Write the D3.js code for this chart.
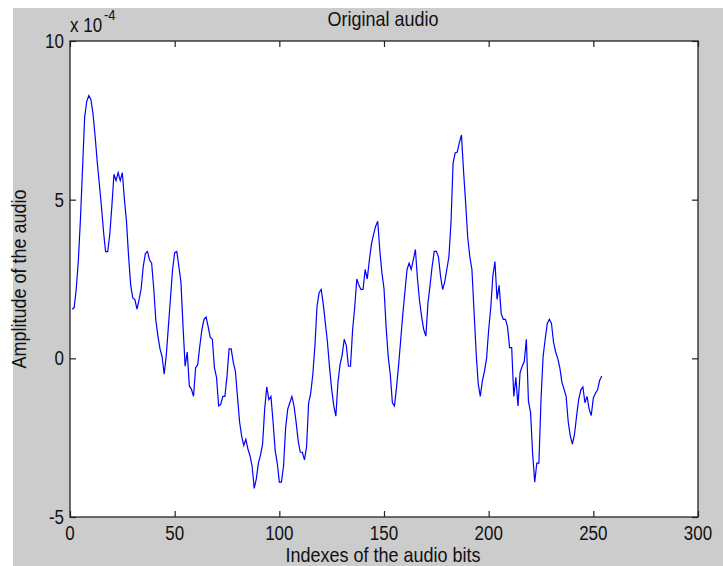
<!DOCTYPE html>
<style>
body { margin: 0; background: #fff; }
text { font-family: 'Liberation Sans', Arial, sans-serif; fill: #111; }
</style>
<svg width="723" height="566"></svg>
<script src="https://d3js.org/d3.v7.min.js"></script>
<script>
// amplitude in units of 1e-4, index 1..254
var amplitude = [
  1.55, 1.6, 2.2, 3.1, 4.4, 6.0, 7.6, 8.1, 8.28, 8.15,
  7.7, 7.0, 6.2, 5.5, 4.8, 4.0, 3.36, 3.36, 3.9, 4.8,
  5.8, 5.6, 5.85, 5.6, 5.85, 5.0, 4.3, 3.2, 2.3, 1.9,
  1.85, 1.55, 1.85, 2.2, 2.9, 3.3, 3.37, 3.1, 3.0, 2.2,
  1.2, 0.7, 0.3, 0.05, -0.5, 0.1, 1.0, 1.9, 2.8, 3.33,
  3.37, 2.9, 2.4, 1.0, -0.25, 0.2, -0.87, -0.97, -1.2, -0.3,
  -0.2, 0.38, 0.9, 1.23, 1.3, 1.0, 0.66, 0.6, -0.3, -0.6,
  -1.5, -1.45, -1.2, -1.2, -0.56, 0.3, 0.3, -0.13, -0.4, -1.2,
  -2.0, -2.45, -2.75, -2.55, -2.86, -3.07, -3.4, -4.1, -3.8, -3.3,
  -3.05, -2.7, -1.6, -0.9, -1.3, -1.2, -2.0, -2.9, -3.3, -3.9,
  -3.9, -3.4, -2.2, -1.6, -1.4, -1.2, -1.5, -2.0, -2.6, -2.96,
  -2.96, -3.2, -2.8, -1.4, -1.1, -0.5, 0.4, 1.64, 2.07, 2.17,
  1.7, 1.1, 0.5, -0.3, -0.97, -1.5, -1.82, -0.76, -0.2, 0.1,
  0.6, 0.4, -0.25, -0.25, 0.9, 1.6, 2.5, 2.3, 2.17, 2.17,
  2.8, 2.5, 3.1, 3.6, 3.9, 4.16, 4.32, 3.4, 2.7, 2.2,
  1.0, 0.06, -0.5, -1.4, -1.5, -0.9, -0.2, 0.6, 1.4, 2.1,
  2.8, 3.0, 2.8, 3.1, 3.43, 2.5, 1.8, 1.3, 0.9, 0.7,
  1.75, 2.3, 2.9, 3.37, 3.37, 3.2, 2.6, 2.17, 2.4, 2.8,
  3.2, 4.27, 6.16, 6.47, 6.5, 6.8, 7.04, 5.9, 4.9, 3.8,
  3.2, 2.8, 1.5, 0.2, -0.8, -1.2, -0.7, -0.4, 0.0, 0.9,
  1.6, 2.6, 3.05, 1.86, 2.3, 1.4, 1.23, 1.23, 1.0, 0.34,
  0.34, -1.2, -0.6, -1.5, -0.45, -0.25, -0.1, 0.6, -1.35, -1.7,
  -3.0, -3.9, -3.3, -3.3, -1.3, 0.06, 0.6, 1.1, 1.23, 1.1,
  0.5, 0.2, 0.0, -0.3, -0.76, -0.97, -1.2, -2.0, -2.45, -2.7,
  -2.4, -1.82, -1.3, -1.0, -0.9, -1.4, -1.2, -1.6, -1.8, -1.25,
  -1.1, -1.0, -0.7, -0.56
];
var xTicks = [0, 50, 100, 150, 200, 250, 300];
var yTicks = [-5, 0, 5, 10];

var svg = d3.select("svg");
var plotLeft = 70, plotRight = 698, plotTop = 41, plotBottom = 517;
var stretch = 1.15;

// grey figure background
svg.append("rect")
    .attr("x", 13).attr("y", 8)
    .attr("width", 710).attr("height", 558)
    .attr("fill", "#cccccc");

svg.append("rect")
    .attr("x", plotLeft).attr("y", plotTop)
    .attr("width", plotRight - plotLeft).attr("height", plotBottom - plotTop)
    .attr("fill", "#fff");

var x = d3.scaleLinear().domain([0, 300]).range([plotLeft, plotRight]);
var y = d3.scaleLinear().domain([-5, 10]).range([plotBottom, plotTop]);

var line = d3.line()
    .x(function(d, i) { return x(i + 1); })
    .y(function(d) { return y(d); });

svg.append("path")
    .datum(amplitude)
    .attr("fill", "none")
    .attr("stroke", "#0000ff")
    .attr("stroke-width", 1.2)
    .attr("d", line);

function styleAxis(g) {
  g.select(".domain").remove();
  g.selectAll("line").attr("stroke", "#222").attr("stroke-width", 1.2);
}

// inward ticks on all four sides
svg.append("g").attr("transform", "translate(0," + plotBottom + ")")
    .call(d3.axisBottom(x).tickValues(xTicks).tickSize(-6).tickFormat(""))
    .call(styleAxis);
svg.append("g").attr("transform", "translate(0," + plotTop + ")")
    .call(d3.axisTop(x).tickValues(xTicks).tickSize(-6).tickFormat(""))
    .call(styleAxis);
svg.append("g").attr("transform", "translate(" + plotLeft + ",0)")
    .call(d3.axisLeft(y).tickValues(yTicks).tickSize(-6).tickFormat(""))
    .call(styleAxis);
svg.append("g").attr("transform", "translate(" + plotRight + ",0)")
    .call(d3.axisRight(y).tickValues(yTicks).tickSize(-6).tickFormat(""))
    .call(styleAxis);

svg.append("rect")
    .attr("x", plotLeft).attr("y", plotTop)
    .attr("width", plotRight - plotLeft).attr("height", plotBottom - plotTop)
    .attr("fill", "none")
    .attr("stroke", "#222")
    .attr("stroke-width", 1.3);

function label(px, py, str, size, anchor, rot) {
  return svg.append("text")
      .attr("transform", "translate(" + px + "," + py + ")" + (rot ? " rotate(" + rot + ")" : "") + " scale(1," + stretch + ")")
      .attr("font-size", size)
      .attr("text-anchor", anchor)
      .text(str);
}

xTicks.forEach(function(t) { label(x(t), 540, t, 17, "middle"); });
yTicks.forEach(function(t) { label(plotLeft - 6, y(t) + 7, t, 17, "end"); });

label(383, 26, "Original audio", 18, "middle");
label(383, 562, "Indexes of the audio bits", 18, "middle");
label(26, (plotTop + plotBottom) / 2, "Amplitude of the audio", 18, "middle", -90);

// exponent
label(70, 32, "x 10", 17, "start");
label(104, 20, "-4", 13, "start");
</script>
